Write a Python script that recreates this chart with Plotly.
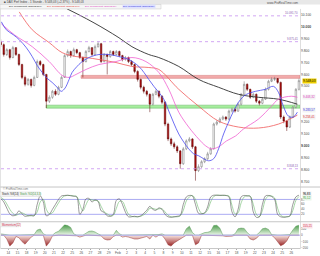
import plotly.graph_objects as go

# ---------------- data ----------------
day_labels = ["14", "15", "18", "19", "20", "21", "22", "25", "26", "27", "28", "29",
              "Feb", "2", "3", "4", "5", "8", "9", "10", "11", "12",
              "15", "16", "17", "18", "19", "22", "23", "24", "25", "26"]
day_pos = list(range(len(day_labels)))  # trading-day index, Jan 14 = 0
first_day = -1
bars_per_day = 3

opens = [9875, 9850, 9767, 9808, 9742, 9825, 9767, 9683, 9575, 9517, 9558, 9508,
         9575, 9708, 9683, 9600, 9375, 9408, 9458, 9433, 9492, 9575, 9758, 9792,
         9758, 9808, 9783, 9742, 9708, 9792, 9825, 9767, 9833, 9858, 9708, 9767,
         9750, 9792, 9767, 9792, 9758, 9725, 9742, 9708, 9683, 9625, 9558, 9492,
         9458, 9433, 9350, 9433, 9458, 9417, 9367, 9183, 9058, 9017, 8992, 8958,
         8850, 8975, 9042, 9058, 8992, 8792, 8825, 8867, 8892, 8933, 8975, 9183,
         9200, 9225, 9242, 9225, 9292, 9308, 9292, 9350, 9433, 9517, 9475, 9408,
         9433, 9375, 9358, 9392, 9475, 9542, 9558, 9565, 9533, 9242, 9208, 9158,
         9242, 9325, 9475]
highs = [9895, 9860, 9820, 9815, 9840, 9830, 9775, 9690, 9590, 9570, 9565, 9590,
         9725, 9720, 9690, 9605, 9425, 9470, 9475, 9505, 9590, 9770, 9810, 9800,
         9825, 9815, 9790, 9750, 9805, 9840, 9830, 9850, 9878, 9865, 9780, 9775,
         9805, 9800, 9805, 9800, 9765, 9755, 9750, 9720, 9690, 9635, 9565, 9505,
         9470, 9440, 9445, 9475, 9465, 9425, 9375, 9195, 9070, 9035, 9005, 8965,
         8990, 9055, 9075, 9065, 9000, 8845, 8880, 8905, 8950, 8990, 9195, 9215,
         9240, 9255, 9250, 9305, 9320, 9315, 9365, 9445, 9542, 9525, 9480, 9445,
         9440, 9385, 9405, 9490, 9555, 9575, 9580, 9570, 9540, 9255, 9215, 9255,
         9335, 9485, 9565]
lows = [9830, 9750, 9755, 9725, 9735, 9755, 9670, 9560, 9500, 9505, 9490, 9500,
        9570, 9670, 9585, 9318, 9360, 9395, 9420, 9425, 9485, 9570, 9745, 9740,
        9750, 9770, 9730, 9575, 9700, 9785, 9755, 9760, 9825, 9695, 9700, 9600,
        9740, 9755, 9760, 9745, 9710, 9715, 9695, 9670, 9610, 9540, 9475, 9440,
        9415, 9283, 9340, 9425, 9400, 9350, 9165, 9040, 9000, 8975, 8940, 8808,
        8840, 8965, 9030, 8975, 8708, 8780, 8815, 8855, 8880, 8925, 8970, 9170,
        9190, 9215, 9210, 9215, 9280, 9280, 9285, 9340, 9425, 9460, 9395, 9400,
        9360, 9340, 9350, 9385, 9465, 9535, 9545, 9520, 9225, 9190, 9125, 9150,
        9235, 9315, 9465]
closes = [9850, 9767, 9808, 9742, 9825, 9767, 9683, 9575, 9517, 9558, 9508, 9575,
          9708, 9683, 9600, 9375, 9408, 9458, 9433, 9492, 9575, 9758, 9792, 9758,
          9808, 9783, 9742, 9708, 9792, 9825, 9767, 9833, 9858, 9708, 9767, 9750,
          9792, 9767, 9792, 9758, 9725, 9742, 9708, 9683, 9625, 9558, 9492, 9458,
          9433, 9350, 9433, 9458, 9417, 9367, 9183, 9058, 9017, 8992, 8958, 8850,
          8975, 9042, 9058, 8992, 8792, 8825, 8867, 8892, 8933, 8975, 9183, 9200,
          9225, 9242, 9225, 9292, 9308, 9292, 9350, 9433, 9517, 9475, 9408, 9433,
          9375, 9358, 9392, 9475, 9542, 9558, 9565, 9533, 9242, 9208, 9158, 9242,
          9325, 9475, 9548]

stoch_k = [84, 70, 45, 22, 14, 18, 34, 22, 12, 14, 16, 14, 60, 94, 70, 14, 20, 40,
           60, 80, 94, 96, 97, 95, 93, 90, 20, 40, 82, 84, 70, 78, 72, 34, 28, 14,
           12, 20, 76, 82, 60, 28, 10, 10, 12, 10, 14, 24, 36, 52, 40, 36, 46, 40,
           20, 10, 8, 10, 12, 16, 60, 90, 96, 94, 60, 24, 22, 26, 50, 90, 97, 97,
           96, 97, 96, 90, 30, 10, 40, 90, 96, 94, 92, 30, 8, 10, 60, 94, 96, 92,
           80, 20, 10, 8, 10, 14, 60, 90, 97]
stoch_d = [88, 80, 62, 40, 24, 16, 22, 26, 20, 14, 14, 15, 30, 70, 80, 40, 22, 26,
           46, 66, 84, 94, 96, 96, 94, 92, 60, 34, 58, 80, 78, 76, 74, 52, 30, 22,
           14, 16, 44, 72, 72, 46, 20, 12, 10, 10, 12, 18, 28, 44, 44, 40, 42, 42,
           30, 16, 10, 10, 10, 14, 36, 74, 90, 96, 80, 44, 24, 24, 38, 70, 92, 97,
           97, 96, 96, 94, 56, 22, 26, 66, 90, 95, 93, 60, 20, 10, 36, 80, 94, 94,
           86, 44, 16, 10, 10, 12, 36, 76, 92]
momentum = [20, 10, -60, -170, -120, -20, -40, -100, -140, -80, -30, 10,
            80, 95, 20, -170, -110, -10, 40, 60, 110, 160, 150, 120,
            20, -10, -30, -10, 30, 60, 65, 50, 20, -10, -60, -75,
            -70, -20, 75, 20, -30, -20, -30, -50, -60, -60, -50, -40,
            -20, -60, 10, -30, 10, 20, -60, -150, -170, -120, -90, -60,
            -20, 100, 140, 40, -150, -120, 20, 40, 45, 60, 150, 155,
            110, -10, -20, -20, -15, 20, 100, 110, 105, 40, -60, -75,
            -50, 40, 100, 110, 90, 10, -40, -100, -165, -140, -90, 10,
            80, 140, 155]

# moving averages: (trading-day time, value)
ma200_t = [6.44, 7.75, 9.39, 10.70, 12.12, 13.54, 15.39, 16.48, 18.67, 20.85, 23.03, 25.22, 27.40, 29.59, 31.66]
ma200_v = [10150, 10100, 10033, 9975, 9908, 9833, 9767, 9742, 9667, 9558, 9492, 9433, 9408, 9392, 9350]
ma100_t = [1.20, 2.62, 4.48, 5.90, 7.42, 8.52, 9.93, 11.79, 13.54, 15.39, 16.48, 18.67, 20.85, 23.03, 25.22, 27.40, 29.59, 31.66]
ma100_v = [10125, 9975, 9867, 9783, 9750, 9742, 9725, 9700, 9667, 9658, 9642, 9475, 9333, 9208, 9158, 9150, 9183, 9258]
ma50_t = [-0.76, 0.66, 2.62, 4.48, 5.90, 6.66, 7.42, 8.52, 9.93, 11.79, 13.54, 15.07, 16.48, 17.58, 18.67,
          19.76, 20.85, 21.62, 22.27, 23.03, 23.91, 24.89, 25.76, 27.40, 28.82, 29.59, 31.00, 31.66]
ma50_v = [10025, 9933, 9833, 9708, 9592, 9575, 9600, 9642, 9683, 9708, 9742, 9708, 9617, 9475, 9283,
          9158, 9058, 9000, 8975, 8992, 9042, 9083, 9142, 9225, 9333, 9392, 9417, 9408]
ma20_t = [-0.76, -0.22, 0.55, 1.20, 1.97, 2.62, 3.17, 3.71, 4.26, 4.80, 5.35, 5.79, 6.11, 6.33, 6.66, 6.99,
          7.53, 7.97, 8.84, 9.93, 11.03, 12.12, 13.21, 14.30, 14.85, 15.39, 15.94, 16.48, 17.03, 17.58,
          18.12, 18.67, 19.21, 19.76, 20.31, 20.85, 21.40, 21.94, 22.49, 23.03, 23.58, 24.13, 24.67,
          25.22, 25.66, 26.09, 27.07, 28.17, 29.04, 29.59, 30.13, 30.68, 31.22, 31.66]
ma20_v = [10042, 9975, 9933, 9892, 9825, 9750, 9675, 9617, 9567, 9533, 9492, 9458, 9475, 9500, 9558, 9617,
          9667, 9700, 9742, 9767, 9767, 9750, 9725, 9667, 9617, 9558, 9500, 9450, 9392, 9292,
          9192, 9100, 9033, 8975, 8933, 8917, 8892, 8875, 8892, 8975, 9100, 9200, 9292,
          9367, 9408, 9433, 9458, 9475, 9500, 9450, 9333, 9250, 9242, 9283]

support_zone = [9317, 9342]
support_start = 4.15
resistance_zone = [9567, 9592]
resistance_start = 7.97
dotted_levels = [10092, 9875, 8808]
dotted_texts = ["10.091,70", "9.875,41", "8.808,13"]
# 9.400 and 9.300 sit under the moving-average value boxes, so they are not listed
price_ticks = [10100, 10000, 9900, 9800, 9700, 9600, 9500, 9200, 9100, 9000, 8900, 8800, 8700]
price_tick_text = ["10.100", "<b>10.000</b>", "9.900", "9.800", "9.700", "9.600", "9.500",
                   "9.200", "9.100", "<b>9.000</b>", "8.900", "8.800", "8.700"]
last_price = 9548.03
ma_last = [(9408.32, "#e040c0", 0), (9283.57, "#3030e0", 2), (9258.41, "#e03030", -2)]
stoch_ticks = [20, 40, 60, 80]
mom_ticks = [100, 0, -100, -200]

# ---------------- figure ----------------
W, H = 320, 256
n = len(closes)
t = [first_day + (i + 0.5) / bars_per_day for i in range(n)]
XR = [-0.8, 31.95]

def py(y):  # pixel row -> paper
    return 1 - y / H

def px(x):
    return x / W

FONT = "Liberation Sans, Arial, sans-serif"
fig = go.Figure()

fig.add_trace(go.Candlestick(
    x=t, open=opens, high=highs, low=lows, close=closes,
    increasing=dict(line=dict(color="#707070", width=0.5), fillcolor="#ffffff"),
    decreasing=dict(line=dict(color="#5a0000", width=0.5), fillcolor="#b01010"),
    whiskerwidth=0, xaxis="x", yaxis="y", hoverinfo="skip"))

for tt, vv, col, w in [(ma200_t, ma200_v, "#303030", 0.9), (ma100_t, ma100_v, "#f05a5a", 0.8),
                       (ma50_t, ma50_v, "#f060d0", 0.8), (ma20_t, ma20_v, "#4a4af0", 0.8)]:
    fig.add_trace(go.Scatter(x=tt, y=vv, mode="lines", line=dict(color=col, width=w, shape="spline"),
                             xaxis="x", yaxis="y", hoverinfo="skip"))

# stochastic
fig.add_trace(go.Scatter(x=t, y=stoch_d, mode="lines", line=dict(color="#6ab86a", width=0.6, shape="spline"),
                         xaxis="x2", yaxis="y2"))
fig.add_trace(go.Scatter(x=t, y=stoch_k, mode="lines", line=dict(color="#555555", width=0.6, shape="spline"),
                         xaxis="x2", yaxis="y2"))

# momentum histogram (area)
pos = [max(v, 0) for v in momentum]
neg = [min(v, 0) for v in momentum]
fig.add_trace(go.Scatter(x=t, y=pos, mode="lines", fill="tozeroy", line=dict(color="#5a9a5a", width=0.5),
                         fillgradient=dict(type="vertical", start=0, stop=160,
                                           colorscale=[[0, "#eef8ea"], [1, "#4a9a4a"]]),
                         xaxis="x3", yaxis="y3"))
fig.add_trace(go.Scatter(x=t, y=neg, mode="lines", fill="tozeroy", line=dict(color="#9a3a3a", width=0.5),
                         fillgradient=dict(type="vertical", start=-175, stop=0,
                                           colorscale=[[0, "#951a1a"], [1, "#f8e6e2"]]),
                         xaxis="x3", yaxis="y3"))

shapes = []
# zones
shapes.append(dict(type="rect", xref="x", yref="y", x0=resistance_start, x1=XR[1],
                   y0=resistance_zone[0], y1=resistance_zone[1],
                   fillcolor="rgba(240,150,150,0.8)", line=dict(color="#d07070", width=0.5), layer="below"))
shapes.append(dict(type="rect", xref="x", yref="y", x0=support_start, x1=XR[1],
                   y0=support_zone[0], y1=support_zone[1],
                   fillcolor="rgba(150,235,140,0.85)", line=dict(color="#60b060", width=0.5), layer="below"))
for lv in dotted_levels:
    shapes.append(dict(type="line", xref="x", yref="y", x0=XR[0], x1=XR[1], y0=lv, y1=lv,
                       line=dict(color="#c890f0", width=0.8, dash="dot")))
for lv in [80, 20]:
    shapes.append(dict(type="line", xref="x2", yref="y2", x0=XR[0], x1=XR[1], y0=lv, y1=lv,
                       line=dict(color="#a0a0f0", width=0.9), layer="below"))
shapes.append(dict(type="line", xref="x3", yref="y3", x0=XR[0], x1=XR[1], y0=0, y1=0,
                   line=dict(color="#a0a0f0", width=0.9)))
# header bars & separators
shapes.append(dict(type="rect", xref="paper", yref="paper", x0=0, x1=1, y0=py(4.5), y1=1,
                   fillcolor="#e8e8e8", line=dict(width=0)))
shapes.append(dict(type="rect", xref="paper", yref="paper", x0=0, x1=px(161), y0=py(9), y1=py(4.5),
                   fillcolor="#f6f6f6", line=dict(color="#c8c8c8", width=0.5)))
for yy in [188.5, 223.5]:
    shapes.append(dict(type="line", xref="paper", yref="paper", x0=0, x1=1, y0=py(yy), y1=py(yy),
                       line=dict(color="#b8b8b8", width=0.8)))
shapes.append(dict(type="line", xref="paper", yref="paper", x0=px(300.5), x1=px(300.5), y0=py(251), y1=py(9),
                   line=dict(color="#c8c8c8", width=0.6)))
shapes.append(dict(type="line", xref="paper", yref="paper", x0=px(0.5), x1=px(0.5), y0=py(251), y1=py(9),
                   line=dict(color="#d0d0d0", width=0.6)))
shapes.append(dict(type="rect", xref="paper", yref="paper", x0=0, x1=px(40), y0=py(198), y1=py(193.5),
                   fillcolor="#f2f2f2", line=dict(color="#d0d0d0", width=0.4)))
shapes.append(dict(type="rect", xref="paper", yref="paper", x0=0, x1=px(19), y0=py(228.5), y1=py(224.5),
                   fillcolor="#f2f2f2", line=dict(color="#d0d0d0", width=0.4)))

ann = []
def A(x, y, text, size=3.3, color="#333", xanchor="left", xref="paper", yref="paper", bg=None,
      yanchor="middle", yshift=0):
    d = dict(x=x, y=y, xref=xref, yref=yref, text=text, showarrow=False, xanchor=xanchor, yanchor=yanchor,
             font=dict(family=FONT, size=size, color=color), borderpad=0, yshift=yshift)
    if bg:
        d["bgcolor"] = bg
    ann.append(d)

A(px(3), py(2.3), "■ DAX Perf Index - 1 Stunde - 9.548,03 (+2,37%) - 9.548,03", 3.0, "#444")
A(px(300), py(2.6), "www.ProRealTime.com", 3.0, "#555", xanchor="right")
A(px(8), py(6.8), "Exp. Durchschnitt (Schluss,200)", 2.3, "#222")
A(px(46), py(6.8), "Exp. Durchschnitt (Schluss,100)", 2.3, "#e03030")
A(px(84), py(6.8), "Exp. Durchschnitt (Schluss,50)", 2.3, "#e040c0")
A(px(122), py(6.8), "Exp. Durchschnitt (Schluss,20)", 2.3, "#3030e0", bg="#dde0ff")
for lv, tx in zip(dotted_levels, dotted_texts):
    A(px(299), lv, tx, 2.8, "#8a60b0", xanchor="right", yref="y", yanchor="bottom")
A(px(301.5), last_price, "9.548,03", 3.2, "#000", yref="y", bg="#f0d000")
for v, c, sh in ma_last:
    A(px(301.5), v, f"{v:,.2f}".replace(",", "X").replace(".", ",").replace("X", "."), 3.0, c, yref="y",
      bg="#f4f4f4", yshift=sh)
A(px(2), py(190.5), "© ProRealTime.com", 2.8, "#777")
A(px(1), py(195.8), "Stoch. %K(14)", 2.6, "#222")
A(px(19), py(195.8), "Stoch. %D(14,3,3)", 2.6, "#3a9a3a")
A(px(301.5), 96.8, "96,83", 2.9, "#000", yref="y2", bg="#f4f4f4", yshift=1)
A(px(301.5), 88.0, "95,12", 2.9, "#3a9a3a", yref="y2", bg="#eaf6ea", yshift=-1)
A(px(1), py(226.5), "Momentum(12)", 2.8, "#d03050")
A(px(301.5), 140, "155,21", 2.9, "#d03050", yref="y3", bg="#fbe4e8")

fig.update_layout(
    width=W, height=H, margin=dict(l=0, r=0, t=0, b=0),
    paper_bgcolor="white", plot_bgcolor="white", showlegend=False,
    shapes=shapes, annotations=ann,
    font=dict(family=FONT, size=3.4, color="#444"),
    xaxis=dict(domain=[px(1), px(300)], range=XR, anchor="y", showticklabels=False, showgrid=False,
               zeroline=False, rangeslider=dict(visible=False), fixedrange=True),
    xaxis2=dict(domain=[px(1), px(300)], range=XR, anchor="y2", matches="x", showticklabels=False,
                showgrid=False, zeroline=False),
    xaxis3=dict(domain=[px(1), px(300)], range=XR, anchor="y3", matches="x", showgrid=False, zeroline=False,
                tickmode="array", tickvals=day_pos, ticktext=day_labels, ticks="outside", ticklen=1.5,
                tickcolor="#aaa", tickfont=dict(size=3.4, color="#555"), showline=True, linecolor="#c8c8c8",
                linewidth=0.6),
    yaxis=dict(domain=[py(187), py(9)], range=[8667, 10150], side="right", anchor="x", showgrid=False,
               zeroline=False, tickmode="array", tickvals=price_ticks, ticktext=price_tick_text,
               tickfont=dict(size=3.3, color="#444"), ticks=""),
    yaxis2=dict(domain=[py(222), py(194)], range=[-4, 108], side="right", anchor="x2", showgrid=False,
                zeroline=False, tickmode="array", tickvals=stoch_ticks, tickfont=dict(size=3.1, color="#555")),
    yaxis3=dict(domain=[py(250), py(226)], range=[-200, 170], side="right", anchor="x3", showgrid=False,
                zeroline=False, tickmode="array", tickvals=mom_ticks, tickfont=dict(size=3.1, color="#555")),
)

fig.write_html("out.html", config={"displayModeBar": False})
